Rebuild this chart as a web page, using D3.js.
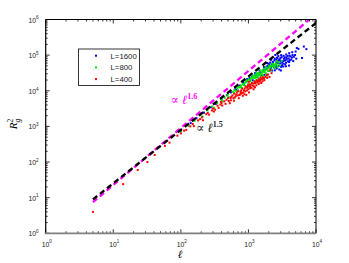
<!DOCTYPE html>
<html><head><meta charset="utf-8">
<script src="https://cdn.jsdelivr.net/npm/d3@7"></script>
<style>body{margin:0;background:#fff}svg{display:block}</style>
</head><body><svg id="c" width="349" height="263"></svg>
<script>
const seriesNames = ["L=1600", "L=800", "L=400"];
const seriesColors = ["#0000ff", "#00e600", "#ff0000"];
// [ell, Rg^2]
const L1600 = [[100,764],[140,1237],[170,1693],[220,2436],[280,3418],[330,4274],[400,5837],[480,7498],[550,8988],[640,12090],[660,10530],[750,13990],[840,17270],[860,15040],[940,18610],[960,21360],[1040,22640],[1060,19270],[1140,24780],[1160,19690],[1240,26830],[1260,31510],[1340,28740],[1360,23920],[1440,31270],[1460,36770],[1540,32300],[1560,27450],[1680,38800],[1700,46640],[1720,28100],[1830,40170],[1870,48290],[1980,44000],[2020,52000],[2040,35860],[1990,56840],[2150,46420],[2200,54540],[2250,36900],[2180,73580],[2350,52900],[2400,45020],[2420,71330],[2460,37450],[2550,53150],[2600,63900],[2620,42220],[2580,75090],[2500,100730],[2750,59400],[2800,49740],[2830,71420],[2860,39550],[2770,94150],[2950,58800],[3000,69100],[3050,46700],[2980,82940],[3020,37070],[3250,67790],[3300,57700],[3350,79640],[3280,47960],[3320,95690],[3550,72280],[3600,61360],[3650,86600],[3580,48730],[3620,104100],[3950,80570],[4000,64000],[4050,96900],[3980,50840],[4020,113800],[4400,85700],[4500,100800],[4600,68060],[4450,121000],[4900,100400],[5000,126400],[5100,79770],[5200,158000],[5500,150000],[6200,83200],[6600,174000],[7200,147000],[1900,60000],[2100,62000],[2300,64000],[2300,58000],[2450,80000],[2650,85000],[2700,68000],[2900,76000],[3100,88000],[3150,62000],[3400,70000],[3450,86000],[3700,79000],[3800,95000],[3850,67000],[4200,92000],[4300,75000],[4700,90000],[2150,41000],[2550,47000],[3150,52000],[3500,55000],[4100,72000],[1950,50500],[2700,81000],[3050,100000]];
const L800 = [[100,713],[130,1033],[160,1443],[195,2064],[210,1882],[248,2818],[290,3620],[310,3301],[345,4458],[395,5574],[415,5082],[445,6352],[490,7440],[510,6631],[500,8157],[590,9336],[610,8514],[620,10480],[690,11770],[705,10220],[715,12900],[780,13730],[800,11940],[820,15410],[880,16380],[905,13630],[920,17970],[970,18330],[995,15220],[1010,21040],[1030,13260],[1080,20660],[1100,23180],[1120,16800],[1170,22980],[1200,26410],[1230,19110],[1270,25350],[1290,28440],[1320,20510],[1310,31190],[1370,27660],[1400,31780],[1430,21960],[1470,30680],[1500,36920],[1510,25000],[1540,21300],[1580,32300],[1610,37100],[1650,26880],[1760,38550],[1800,46340],[1830,30620],[1870,26670],[1960,43100],[2000,50660],[2050,35860],[2150,49720],[2200,39500],[2250,57090],[2380,52900],[2450,43890],[2550,58270],[2650,66920],[2800,62210],[3100,69200],[2900,52000],[2700,47000],[1150,25500],[1250,23000],[1350,24500],[1450,27500],[1550,29000],[1650,34000],[1700,41000],[1750,33500],[1900,40000],[1950,36000],[2100,45000],[2300,48000],[2350,56000],[2500,51000],[2600,55000],[1050,18500],[950,19500],[850,14500],[750,12500],[650,9900]];
const L400 = [[5,4.0],[14,24],[23,60],[32,100],[41,158],[58,284],[68,350],[89,550],[100,635],[112,760],[120,798],[138,1000],[150,1167],[156,1017],[180,1466],[193,1600],[205,1797],[212,1488],[238,2200],[250,2398],[262,2138],[288,2800],[300,3153],[308,2623],[322,2943],[350,3795],[362,3305],[385,4100],[400,4531],[410,3850],[392,4855],[440,5053],[458,4294],[475,5600],[500,6200],[512,5145],[530,4481],[545,6300],[580,7419],[600,6191],[620,8325],[610,5256],[650,7000],[680,8900],[700,7423],[720,6174],[710,9760],[760,8200],[780,10180],[800,8447],[825,7207],[810,11422],[860,10300],[880,11590],[900,9655],[930,7672],[915,13000],[960,12100],[980,13260],[1000,11020],[1020,8984],[1040,15220],[1010,17900],[1080,14630],[1110,12160],[1130,16410],[1180,15890],[1210,13240],[1230,18240],[1190,11010],[1280,17500],[1310,14270],[1330,19650],[1390,18730],[1420,15550],[1440,21000],[1480,20230],[1520,23290],[1550,16500],[1590,21270],[1640,23900],[1720,19800],[1780,24320],[1850,27300],[1950,28490],[2100,38000],[2200,31300],[2050,24500],[550,5400],[560,6800],[630,6500],[660,7800],[740,7600],[770,9200],[840,9000],[870,8000],[950,10200],[990,14300],[1060,11800],[1150,14000],[1250,16300],[1350,17000],[1450,18000],[1500,19000],[1620,18500],[1700,22000],[1900,23000],[1250,12500],[1050,13200]];
const seriesData = [L1600, L800, L400];
// power-law guide lines: prefactor, exponent, ell range
const guideColors = ["#ff00ff", "#000000"];
const guideCoef = [0.57, 0.8];
const guideExp = [1.6, 1.5];
const guideEll = [5, 10000];
const guideLabels = ["1.6", "1.5"];
const xTickExps = [0, 1, 2, 3, 4];
const yTickExps = [0, 1, 2, 3, 4, 5, 6];

const svg = d3.select("#c");
const L = 45.7, R = 316, T = 19.5, B = 233.3;
const x = d3.scaleLog().domain([1, 1e4]).range([L, R]);
const y = d3.scaleLog().domain([1, 1e6]).range([B, T]);

const defs = svg.append("defs");
defs.append("clipPath").attr("id", "clip").append("rect").attr("x", L).attr("y", T).attr("width", R - L).attr("height", B - T);

// points
const pts = svg.append("g").attr("clip-path", "url(#clip)");
seriesData.forEach((d, i) => {
  pts.append("g").selectAll("rect").data(d).join("rect")
    .attr("x", p => x(p[0]) - 1).attr("y", p => y(p[1]) - 1)
    .attr("width", 2).attr("height", 2).attr("fill", seriesColors[i]);
});

// guide lines
const line = d3.line().x(p => x(p[0])).y(p => y(p[1]));
guideCoef.forEach((c, i) => {
  const pp = guideEll.map(l => [l, c * Math.pow(l, guideExp[i])]);
  pts.append("path").attr("d", line(pp)).attr("fill", "none")
    .attr("stroke", guideColors[i]).attr("stroke-width", 2.3)
    .attr("stroke-dasharray", "5.5,3.5");
});

// axes with ticks
function minors(exps) {
  const out = [];
  for (let e = exps[0]; e < exps[exps.length - 1]; e++)
    for (let m = 2; m <= 9; m++) out.push(m * Math.pow(10, e));
  return out;
}
const xMaj = xTickExps.map(e => Math.pow(10, e)), yMaj = yTickExps.map(e => Math.pow(10, e));
const xMin = minors(xTickExps), yMin = minors(yTickExps);

const ax = svg.append("g").attr("stroke", "#000").attr("stroke-width", 0.8);
[[xMaj, 4], [xMin, 2]].forEach(([vals, s]) => {
  vals.forEach(v => {
    const px = x(v);
    ax.append("line").attr("x1", px).attr("x2", px).attr("y1", B).attr("y2", B - s);
    ax.append("line").attr("x1", px).attr("x2", px).attr("y1", T).attr("y2", T + s);
  });
});
[[yMaj, 4], [yMin, 2]].forEach(([vals, s]) => {
  vals.forEach(v => {
    const py = y(v);
    ax.append("line").attr("x1", L).attr("x2", L + s).attr("y1", py).attr("y2", py);
    ax.append("line").attr("x1", R).attr("x2", R - s).attr("y1", py).attr("y2", py);
  });
});
svg.append("line").attr("x1", L).attr("x2", R).attr("y1", T).attr("y2", T).attr("stroke", "#000").attr("stroke-width", 1);
svg.append("line").attr("x1", R).attr("x2", R).attr("y1", T).attr("y2", B).attr("stroke", "#000").attr("stroke-width", 1);
svg.append("line").attr("x1", L).attr("x2", L).attr("y1", T).attr("y2", B).attr("stroke", "#000").attr("stroke-width", 1.2);
svg.append("line").attr("x1", L - 1).attr("x2", R).attr("y1", B).attr("y2", B).attr("stroke", "#808080").attr("stroke-width", 1.8);

const tf = "Liberation Sans, Arial, sans-serif";
xTickExps.forEach(e => {
  const t = svg.append("text").attr("x", x(Math.pow(10, e)) + 1).attr("y", 246.5)
    .attr("text-anchor", "middle").attr("font-family", tf).attr("font-size", 6.8).attr("fill", "#222");
  t.append("tspan").text("10");
  t.append("tspan").attr("dy", -3.2).attr("font-size", 4.6).text(e);
});
yTickExps.forEach(e => {
  const t = svg.append("text").attr("x", 38.5).attr("y", y(Math.pow(10, e)) + 3)
    .attr("text-anchor", "end").attr("font-family", tf).attr("font-size", 6.8).attr("fill", "#222");
  t.append("tspan").text("10");
  t.append("tspan").attr("dy", -3.2).attr("font-size", 4.6).text(e);
});

// axis titles
const sf = "Liberation Serif, DejaVu Serif, serif";
svg.append("text").attr("x", 180).attr("y", 257.5).attr("text-anchor", "middle")
  .attr("font-family", sf).attr("font-style", "italic").attr("font-size", 11).text("ℓ");
const yl = svg.append("text").attr("transform", "translate(17,124) rotate(-90)").attr("text-anchor", "middle")
  .attr("font-family", sf).attr("font-style", "italic").attr("font-size", 11);
yl.append("tspan").text("R");
yl.append("tspan").attr("dy", 2.5).attr("font-size", 7.5).text("g");
yl.append("tspan").attr("dx", -3.8).attr("dy", -7).attr("font-size", 7.5).attr("font-style", "normal").text("2");

// annotations
const annPos = [[170.5, 104], [196, 132]];
guideLabels.forEach((lab, i) => {
  const t = svg.append("text").attr("x", annPos[i][0]).attr("y", annPos[i][1])
    .attr("font-family", sf).attr("font-size", 12.5).attr("fill", guideColors[i] === "#000000" ? "#222" : guideColors[i]);
  t.append("tspan").text("∝ ");
  t.append("tspan").attr("font-style", "italic").text("ℓ");
  t.append("tspan").attr("dy", -5).attr("font-size", 8).attr("font-weight", "bold").text(lab);
});

// legend
const lg = svg.append("g");
lg.append("rect").attr("x", 78.5).attr("y", 49).attr("width", 61).attr("height", 36.5)
  .attr("fill", "#fff").attr("stroke", "#222").attr("stroke-width", 0.9);
seriesNames.forEach((n, i) => {
  const yy = 55.7 + i * 11.7;
  lg.append("rect").attr("x", 95).attr("y", yy - 1).attr("width", 2).attr("height", 2).attr("fill", seriesColors[i]);
  lg.append("text").attr("x", 110.5).attr("y", yy + 3).attr("font-family", tf).attr("font-size", 7.8)
    .attr("fill", "#222").text(n);
});
</script></body></html>
